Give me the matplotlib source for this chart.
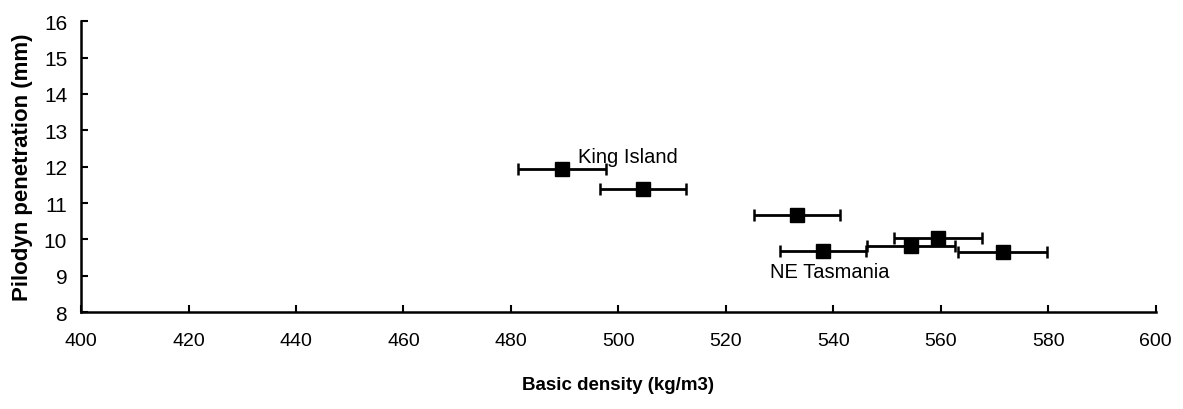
import numpy as np
import matplotlib
matplotlib.use("Agg")
import matplotlib.pyplot as plt

# valores
densidad = [489.5, 504.5, 533.2, 538.1, 554.5, 559.4, 571.5]
pilodyn = [11.95, 11.39, 10.67, 9.69, 9.83, 10.03, 9.65]
err_densidad = [8.1, 8.0, 8.0, 8.0, 8.2, 8.2, 8.3]

etiquetas = ["King Island", "NE Tasmania"]
pos_etiquetas = [(492.5, 12.29), (528.2, 9.13)]

plt.rcParams["font.family"] = ["Liberation Sans", "DejaVu Sans"]

fig = plt.figure(figsize=(11.83, 4.10), dpi=100)
ax = fig.add_axes([0.0685, 0.236, 0.9085, 0.71])

ax.errorbar(densidad, pilodyn, xerr=err_densidad, fmt="s", color="black",
            markersize=10.5, elinewidth=2, capsize=4.5, capthick=1.8,
            ecolor="black")

for texto, (x, y) in zip(etiquetas, pos_etiquetas):
    ax.text(x, y, texto, fontsize=14.5, ha="left", va="center")

ax.set_xlim(400, 600)
ax.set_ylim(8, 16)
ax.set_xticks(np.arange(400, 601, 20))
ax.set_yticks(np.arange(8, 17, 1))

ax.spines["top"].set_visible(False)
ax.spines["right"].set_visible(False)
ax.spines["left"].set_linewidth(1.8)
ax.spines["bottom"].set_linewidth(1.8)
ax.tick_params(axis="both", direction="in", length=5, width=1.5)
ax.tick_params(axis="x", pad=14, labelsize=14)
ax.tick_params(axis="y", pad=10, labelsize=15)

ax.set_xlabel("Basic density (kg/m3)", fontsize=13.5, fontweight="bold", labelpad=20)
ax.set_ylabel("Pilodyn penetration (mm)", fontsize=16, fontweight="bold", labelpad=8)

fig.savefig("out.png", dpi=100)
